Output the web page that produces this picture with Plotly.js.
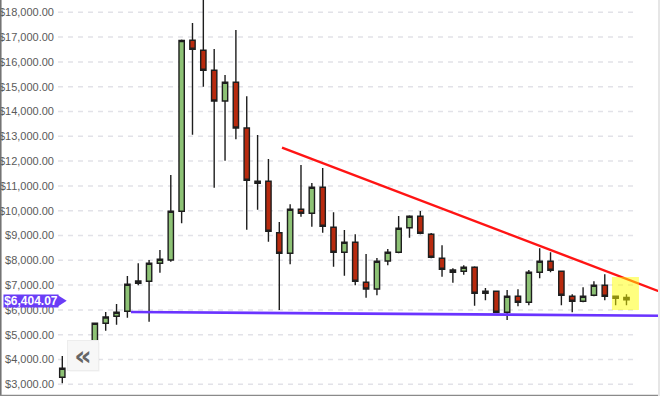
<!DOCTYPE html>
<html>
<head>
<meta charset="utf-8">
<script src="https://cdn.plot.ly/plotly-3.0.1.min.js"></script>
<style>
html,body{margin:0;padding:0;background:#fff;}
#chart{width:660px;height:396px;}
</style>
</head>
<body>
<div id="chart"></div>
<script>
// ---- Data ----
var openP  = [3282,3645,3850,4250,5460,5742,5944,7073,7153,7879,8012,9976,16871,16468,15661,14423,15177,13335,11105,11185,9113,8282,10056,9895,10944,9331,8323,8726,7113,6843,7972,8323,9315,9774,9048,8081,7609,7556,7718,6669,6750,5903,6548,6306,7516,7960,7556,6548,6347,6589,6992,6548,6500];
var highP  = [4141,3900,4300,5480,5915,6238,7367,7879,8012,8415,11440,16900,17569,19600,16520,15472,17286,14613,13052,12085,9544,10258,11843,11117,11722,9935,9222,9048,8254,8093,8456,9786,9815,9988,9100,8605,7677,7798,7760,6883,6780,6802,6831,7609,8484,8323,7590,6629,6911,7153,7435,6560,6629];
var lowP   = [3040,3550,3750,4200,5160,5403,5685,6992,5524,7500,7944,9492,13065,15000,10927,12016,12879,9234,10040,8750,5996,7839,9758,9355,9113,7742,7379,6992,6492,6589,7798,8282,8911,9048,8080,7339,7097,7419,6169,6387,5870,5593,6145,6185,7274,7516,6185,5903,6306,6548,6387,6185,6185];
var closeP = [3645,3850,4250,5460,5714,5903,7032,7165,7879,8040,9976,16863,16508,15661,14423,15177,13335,11226,11185,9169,8282,10056,9895,10944,9371,8323,8726,7153,6843,7960,8323,9290,9774,9089,8121,7637,7516,7718,6669,6750,5903,6548,6306,7516,7960,7597,6589,6347,6548,6992,6548,6468,6404];
var idx = openP.map(function(_, i){ return i; });

// resistance (red) and support (purple) trend lines
var resistX = [20.25, 55.09];
var resistY = [12540, 6734];
var supportX = [6.33, 55.09];
var supportY = [5915, 5766];

// y-axis tick values
var tickVals = [3000,4000,5000,6000,7000,8000,9000,10000,11000,12000,13000,14000,15000,16000,17000,18000];

// last price tag
var lastPriceLabel = '$6,404.07';

// highlighted zone (last two bars)
var hlX = [50.66, 53.15];
var hlY = [5996, 7327];

// ---- Layout helpers ----
var W = 660, H = 396, L = 58;
var PW = W - L;
function px(x){ return (x - L) / PW; }
function py(y){ return 1 - y / H; }

var shapes = [];
tickVals.forEach(function(v){
  shapes.push({type:'line', xref:'paper', yref:'y', x0:0, x1:px(635), y0:v, y1:v,
    line:{color:'#e2e2e8', width:1.5, dash:'5px,5px'}, layer:'below'});
});
// frame lines
shapes.push({type:'line', xref:'paper', yref:'paper', x0:px(0.8), x1:px(0.8), y0:0, y1:1,
  line:{color:'#6e6e6e', width:1.5}});
shapes.push({type:'line', xref:'paper', yref:'paper', x0:px(0), x1:px(660), y0:py(395.3), y1:py(395.3),
  line:{color:'#8a8a8a', width:1.3}});
shapes.push({type:'line', xref:'paper', yref:'paper', x0:px(659), x1:px(659), y0:0, y1:1,
  line:{color:'#e6e6e6', width:2}});
// highlight zone
shapes.push({type:'rect', xref:'x', yref:'y', x0:hlX[0], x1:hlX[1], y0:hlY[0], y1:hlY[1],
  fillcolor:'rgba(255,255,0,0.5)', line:{width:0}, layer:'above'});
// price tag arrow
shapes.push({type:'path', xref:'paper', yref:'paper',
  path:'M '+px(57.5)+' '+py(295)+' L '+px(66.7)+' '+py(300.8)+' L '+px(57.5)+' '+py(306.7)+' Z',
  fillcolor:'#6a3df7', line:{width:0}, layer:'above'});
// button shadow
shapes.push({type:'rect', xref:'paper', yref:'paper', x0:px(69.5), x1:px(99.5), y0:py(371.5), y1:py(342.5),
  fillcolor:'rgba(0,0,0,0.06)', line:{width:0}, layer:'above'});

var traces = [
  {
    type:'candlestick', x:idx, open:openP, high:highP, low:lowP, close:closeP,
    increasing:{line:{color:'#1e1e1e', width:1.4}, fillcolor:'#8dc275'},
    decreasing:{line:{color:'#1e1e1e', width:1.4}, fillcolor:'#b82a0e'},
    whiskerwidth:0, hoverinfo:'skip', showlegend:false
  },
  {
    type:'scatter', mode:'lines', x:supportX, y:supportY,
    line:{color:'#6a33ff', width:2.6}, hoverinfo:'skip', showlegend:false
  },
  {
    type:'scatter', mode:'lines', x:resistX, y:resistY,
    line:{color:'#ff1414', width:2.4}, hoverinfo:'skip', showlegend:false
  }
];

var layout = {
  width:W, height:H,
  margin:{l:L, r:0, t:0, b:0, pad:0},
  paper_bgcolor:'#ffffff', plot_bgcolor:'#ffffff',
  showlegend:false,
  xaxis:{range:[-0.396, 55.09], visible:false, rangeslider:{visible:false}, fixedrange:true},
  yaxis:{range:[2528, 18496], tickvals:tickVals, tickformat:'$,.2f', showgrid:false,
    zeroline:false, showline:false, ticks:'', ticklabelstandoff:3,
    tickfont:{family:'"Liberation Sans", Arial, sans-serif', size:11, color:'#5a5a5a'}, fixedrange:true},
  shapes:shapes,
  annotations:[
    {xref:'paper', yref:'paper', x:px(3.3), y:py(300.8), xanchor:'left', yanchor:'middle',
     text:'<b>'+lastPriceLabel+'</b>', showarrow:false, bgcolor:'#6a3df7', borderpad:0,
     width:54, height:12, align:'center',
     font:{family:'"Liberation Sans", Arial, sans-serif', size:12, color:'#ffffff'}},
    {xref:'paper', yref:'paper', x:px(83.3), y:py(355.8), xanchor:'center', yanchor:'middle',
     text:'<b>«</b>', showarrow:false, bgcolor:'#f7f7f7', bordercolor:'#ededed', borderwidth:1,
     width:28, height:27, align:'center',
     font:{family:'"DejaVu Sans", sans-serif', size:27, color:'#666666'}}
  ]
};

Plotly.newPlot('chart', traces, layout, {displayModeBar:false, staticPlot:true});
</script>
</body>
</html>
